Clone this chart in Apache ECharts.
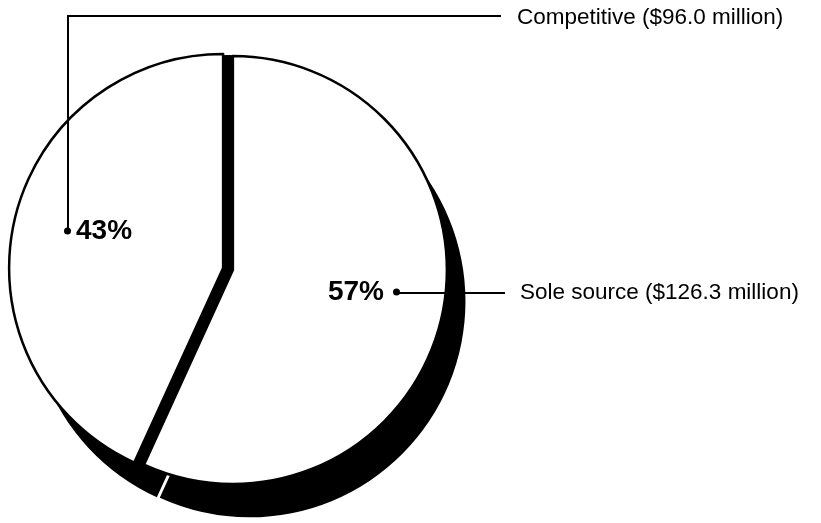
<!DOCTYPE html>
<html>
<head>
<meta charset="utf-8">
<script src="https://cdn.jsdelivr.net/npm/echarts@6/dist/echarts.min.js"></script>
<style>
  html, body { margin: 0; padding: 0; background: #fff; }
  #chart { width: 821px; height: 523px; }
</style>
</head>
<body>
<div id="chart"></div>
<script>
// ---- data ----
const categories = ['Sole source', 'Competitive'];
const valuesMillion = [126.3, 96.0];

// ---- layout / style ----
const CX = 228, CY = 269, R = 214;
const SH_DX = 20, SH_DY = 32, SH_R = 216;
const FONT = '"Liberation Sans", Arial, Helvetica, sans-serif';

// label anchor positions (pixels)
const nameLabelPos = {
  'Sole source': { x: 520, y: 293, line: [[397, 293], [450, 293], [505, 293]] },
  'Competitive': { x: 517, y: 18, line: [[68, 232], [68, 16], [501, 16]] }
};
const pctLabelPos = {
  'Sole source': { x: 400, y: 292, align: 'right' },
  'Competitive': { x: 64, y: 231, align: 'left' }
};

function makeData(extra) {
  return categories.map((n, i) => Object.assign({ name: n, value: valuesMillion[i] }, extra || {}));
}

const chart = echarts.init(document.getElementById('chart'), null, { renderer: 'canvas' });

const common = {
  type: 'pie',
  startAngle: 90,
  clockwise: true,
  animation: false,
  avoidLabelOverlap: false,
  silent: true,
  emphasis: { disabled: true }
};

chart.setOption({
  backgroundColor: '#ffffff',
  series: [
    // shadow / depth
    Object.assign({}, common, {
      z: 1,
      center: [CX + SH_DX, CY + SH_DY],
      radius: SH_R,
      selectedMode: 'multiple',
      selectedOffset: 1.5,
      label: { show: false },
      labelLine: { show: false },
      itemStyle: { color: '#000', borderWidth: 0 },
      select: { itemStyle: { color: '#000', borderWidth: 0 } },
      data: makeData({ selected: true })
    }),
    // black base showing through the exploded gap
    Object.assign({}, common, {
      z: 1,
      center: [CX, CY],
      radius: R,
      label: { show: false },
      labelLine: { show: false },
      itemStyle: { color: '#000', borderWidth: 0 },
      data: makeData()
    }),
    // front face
    Object.assign({}, common, {
      z: 2,
      center: [CX, CY],
      radius: R,
      selectedMode: 'multiple',
      selectedOffset: 5,
      itemStyle: { color: '#fff', borderColor: '#000', borderWidth: 2.5 },
      select: { itemStyle: { color: '#fff', borderColor: '#000', borderWidth: 2.5 } },
      label: { show: false },
      labelLine: { show: false },
      data: makeData({ selected: true })
    }),
    // name labels with leader lines
    Object.assign({}, common, {
      z: 5,
      center: [CX, CY],
      radius: R,
      itemStyle: { color: 'rgba(0,0,0,0)', borderWidth: 0 },
      label: {
        show: true,
        position: 'outside',
        color: '#000',
        fontFamily: FONT,
        fontSize: 22.5,
        formatter: p => p.name + ' ($' + p.value.toFixed(1) + ' million)'
      },
      labelLine: { show: true, lineStyle: { color: '#000', width: 2 } },
      labelLayout: function (params) {
        const pos = nameLabelPos[categories[params.dataIndex]];
        return {
          x: pos.x, y: pos.y, align: 'left', verticalAlign: 'middle',
          labelLinePoints: pos.line
        };
      },
      data: makeData()
    }),
    // percentage labels with dots
    Object.assign({}, common, {
      z: 6,
      center: [CX, CY],
      radius: R,
      itemStyle: { color: 'rgba(0,0,0,0)', borderWidth: 0 },
      label: {
        show: true,
        position: 'outside',
        formatter: p => {
          const pct = Math.round(p.percent) + '%';
          return p.dataIndex === 0 ? '{p|' + pct + '}{gapR|}{dot|}' : '{dot|}{gapL|}{p|' + pct + '}';
        },
        rich: {
          p: { fontFamily: FONT, fontWeight: 'bold', fontSize: 28, color: '#000' },
          gapL: { width: 5, height: 7 },
          gapR: { width: 9, height: 7 },
          dot: { width: 7, height: 7, backgroundColor: '#000', borderRadius: 4 }
        }
      },
      labelLine: { show: false },
      labelLayout: function (params) {
        const pos = pctLabelPos[categories[params.dataIndex]];
        return { x: pos.x, y: pos.y, align: pos.align, verticalAlign: 'middle' };
      },
      data: makeData()
    })
  ]
});
</script>
</body>
</html>
